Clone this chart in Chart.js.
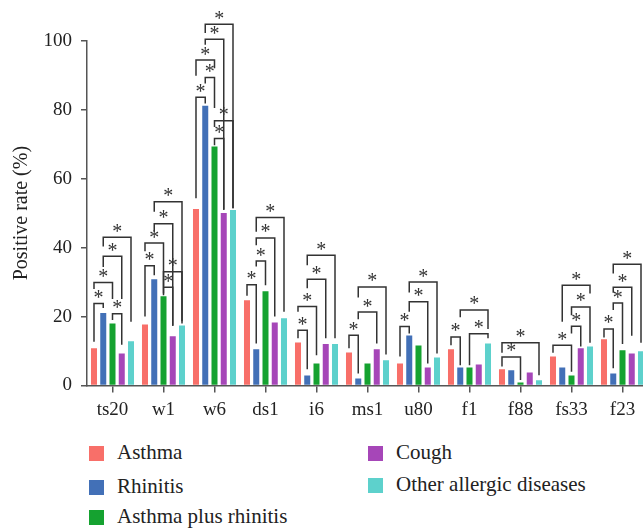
<!DOCTYPE html>
<html>
<head>
<meta charset="utf-8">
<script src="https://cdn.jsdelivr.net/npm/chart.js@4/dist/chart.umd.min.js"></script>
<style>
  html, body { margin: 0; padding: 0; background: #fff; overflow: hidden; }
  #wrap { position: relative; width: 643px; height: 529px; overflow: hidden; }
  #c { position: absolute; left: 0; top: 0; }
  .lg { position: absolute; font-family: "Liberation Serif", "DejaVu Serif", serif; font-size: 21px; color: #222; line-height: 1; white-space: nowrap; }
  .sw { position: absolute; width: 15px; height: 15px; }
</style>
</head>
<body>
<div id="wrap">
  <canvas id="c" width="648" height="430"></canvas>
  <div id="legend"></div>
</div>
<script>
// ---- data ----
const categories = ['ts20', 'w1', 'w6', 'ds1', 'i6', 'ms1', 'u80', 'f1', 'f88', 'fs33', 'f23'];
const seriesNames = ['Asthma', 'Rhinitis', 'Asthma plus rhinitis', 'Cough', 'Other allergic diseases'];
const asthma         = [10.8, 17.7, 51.2, 24.7, 12.5,  9.6,  6.4, 10.5, 4.7,  8.4, 13.4];
const rhinitis       = [21.0, 30.8, 81.1, 10.5,  2.9,  2.0, 14.5,  5.2, 4.4,  5.2,  3.5];
const asthmaRhinitis = [18.0, 25.9, 69.3, 27.3,  6.4,  6.4, 11.6,  5.2, 0.9,  2.9, 10.2];
const cough          = [ 9.3, 14.3, 50.0, 18.3, 12.0, 10.5,  5.2,  6.1, 3.8, 10.8,  9.3];
const otherAllergic  = [12.8, 17.4, 50.9, 19.5, 12.0,  7.3,  8.1, 12.2, 1.5, 11.3,  9.9];
const yTicks = [0, 20, 40, 60, 80, 100];
// significance brackets: [category, seriesA, seriesB, bracket level (%), left leg end (%), right leg end (%)]
const brackets = [
  [0, 0, 1, 23.8, 12.7, 22.5], [0, 0, 2, 29.9, 28.0, 25.1], [0, 2, 3, 20.8, 19.0, 11.8],
  [0, 1, 3, 37.5, 34.4, 25.1], [0, 1, 4, 43.0, 40.3, 18.5],
  [1, 0, 1, 34.7, 20.0, 32.0], [1, 0, 2, 41.3, 38.9, 26.7], [1, 1, 3, 46.9, 44.6, 17.3],
  [1, 1, 4, 53.3, 50.4, 18.0], [1, 2, 3, 28.5, 26.2, 17.3], [1, 2, 4, 33.0, 28.7, 18.6],
  [2, 0, 1, 83.6, 54.3, 81.8], [2, 1, 2, 89.3, 87.6, 80.5], [2, 0, 2, 94.4, 89.8, 92.0],
  [2, 1, 3, 100.4, 98.8, 51.0], [2, 1, 4, 104.8, 102.2, 51.4], [2, 2, 4, 76.8, 75.0, 51.4],
  [2, 2, 3, 71.6, 69.7, 51.0],
  [3, 0, 1, 29.2, 26.0, 12.2], [3, 1, 2, 36.1, 34.5, 29.1], [3, 1, 3, 42.8, 40.7, 20.0],
  [3, 1, 4, 48.7, 44.6, 21.4],
  [4, 0, 1, 16.0, 13.7, 4.7], [4, 0, 2, 22.9, 21.4, 8.8], [4, 1, 3, 30.8, 28.2, 13.7],
  [4, 1, 4, 37.8, 34.9, 13.7],
  [5, 0, 1, 14.6, 10.8, 3.5], [5, 1, 3, 21.3, 19.2, 12.2], [5, 1, 4, 28.6, 25.5, 9.0],
  [6, 0, 1, 17.1, 8.4, 15.1], [6, 1, 3, 24.3, 21.4, 6.4], [6, 1, 4, 30.0, 27.0, 9.3],
  [7, 0, 1, 14.1, 11.7, 5.9], [7, 2, 4, 15.0, 5.9, 13.7], [7, 1, 4, 21.9, 19.8, 16.4],
  [8, 0, 2, 8.3, 5.5, 1.6], [8, 0, 4, 12.4, 9.5, 3.0],
  [9, 0, 2, 11.7, 9.5, 4.0], [9, 2, 3, 17.2, 15.1, 11.3], [9, 2, 4, 22.8, 20.4, 12.4],
  [9, 1, 4, 29.1, 18.5, 26.7],
  [10, 0, 1, 16.4, 13.9, 5.0], [10, 1, 2, 23.9, 21.9, 12.0], [10, 1, 3, 28.5, 26.9, 14.4],
  [10, 1, 4, 35.2, 32.5, 12.4]
];
const colors = ['#f86f69', '#4270b7', '#15a230', '#a646b8', '#5dd1cc'];
const seriesValues = [asthma, rhinitis, asthmaRhinitis, cough, otherAllergic];

const FONT = '"Liberation Serif", "DejaVu Serif", serif';
const AXIS = '#555';

const bracketPlugin = {
  id: 'brackets',
  afterDatasetsDraw(chart) {
    const ctx = chart.ctx;
    const y = chart.scales.y;
    ctx.save();
    ctx.strokeStyle = '#333';
    ctx.lineWidth = 1.5;
    ctx.fillStyle = '#333';
    ctx.font = '20px ' + FONT;
    ctx.textAlign = 'center';
    ctx.textBaseline = 'alphabetic';
    brackets.forEach(([cat, a, b, lvl, lb, rb]) => {
      const xa = chart.getDatasetMeta(a).data[cat].x;
      const xb = chart.getDatasetMeta(b).data[cat].x;
      const yl = y.getPixelForValue(lvl);
      ctx.beginPath();
      ctx.moveTo(xa, y.getPixelForValue(lb));
      ctx.lineTo(xa, yl);
      ctx.lineTo(xb, yl);
      ctx.lineTo(xb, y.getPixelForValue(rb));
      ctx.stroke();
      ctx.fillText('*', (xa + xb) / 2, yl + 0.5);
    });
    ctx.restore();
  }
};

new Chart(document.getElementById('c'), {
  type: 'bar',
  data: {
    labels: categories,
    datasets: seriesNames.map((n, i) => ({
      label: n,
      data: seriesValues[i],
      backgroundColor: colors[i],
      borderWidth: 0,
      barPercentage: 0.65,
      categoryPercentage: 0.907
    }))
  },
  options: {
    responsive: false,
    animation: false,
    devicePixelRatio: 1,
    layout: { padding: { top: 40.7, right: 0, left: 0, bottom: 0 } },
    plugins: { legend: { display: false }, tooltip: { enabled: false } },
    scales: {
      x: {
        grid: { display: true, drawOnChartArea: false, drawTicks: true, tickLength: 7, offset: false, color: AXIS, lineWidth: 1.5 },
        border: { display: true, color: AXIS, width: 1.5 },
        ticks: { color: '#222', font: { family: FONT, size: 19 }, padding: 6, maxRotation: 0, autoSkip: false },
        afterFit(s) { s.height = 44.5; }
      },
      y: {
        min: 0, max: 100,
        afterBuildTicks(s) { s.ticks = yTicks.map(v => ({ value: v })); },
        grid: { display: true, drawOnChartArea: false, drawTicks: true, tickLength: 6, color: AXIS, lineWidth: 1.5 },
        border: { display: true, color: AXIS, width: 1.5 },
        ticks: { color: '#222', font: { family: FONT, size: 19 }, padding: 9 },
        title: { display: true, text: 'Positive rate (%)', color: '#222', font: { family: FONT, size: 20 }, padding: { top: 10, bottom: 0 } },
        afterFit(s) { s.width = 87; }
      }
    }
  },
  plugins: [bracketPlugin]
});

// HTML legend (two columns, like the reference)
const legendPos = [[89, 446], [89, 480], [89, 510], [368, 446], [368, 478]];
const lg = document.getElementById('legend');
seriesNames.forEach((n, i) => {
  const sw = document.createElement('div');
  sw.className = 'sw';
  sw.style.left = legendPos[i][0] + 'px';
  sw.style.top = legendPos[i][1] + 'px';
  sw.style.background = colors[i];
  lg.appendChild(sw);
  const t = document.createElement('div');
  t.className = 'lg';
  t.textContent = n;
  t.style.left = (legendPos[i][0] + 28) + 'px';
  t.style.top = (legendPos[i][1] - 4) + 'px';
  lg.appendChild(t);
});
</script>
</body>
</html>
